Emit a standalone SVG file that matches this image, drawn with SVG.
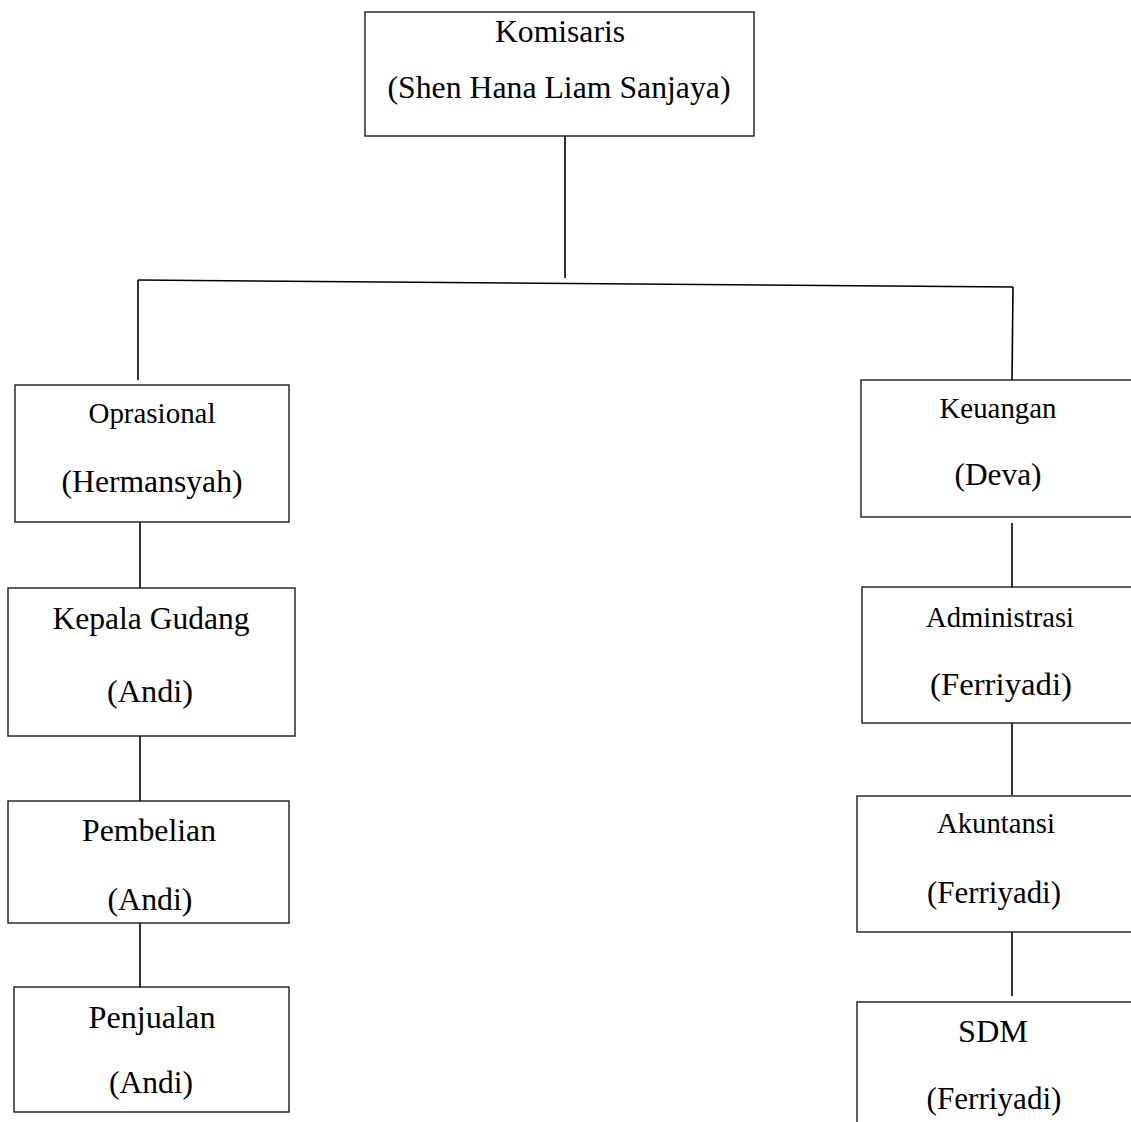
<svg xmlns="http://www.w3.org/2000/svg" width="1131" height="1122" viewBox="0 0 1131 1122">
<style>
.box{fill:#fff;stroke:#1a1a1a;stroke-width:1.4}
.t{font-family:"Liberation Serif","Times New Roman",serif;font-size:31px;fill:#000;text-anchor:middle}
.s{font-size:28.5px}
.c{stroke:#000;stroke-width:1.6;fill:none}
</style>
<rect width="1131" height="1122" fill="#fff"/>
<g id="connectors">
<line class="c" x1="565" y1="136" x2="565" y2="278"/>
<line class="c" x1="138" y1="280" x2="1013" y2="287" stroke-width="2"/>
<line class="c" x1="138" y1="280" x2="138" y2="380"/>
<line class="c" x1="1013" y1="287" x2="1012" y2="380"/>
<line class="c" x1="140" y1="522" x2="140" y2="588"/>
<line class="c" x1="140" y1="736" x2="140" y2="801"/>
<line class="c" x1="140" y1="923" x2="140" y2="987"/>
<line class="c" x1="1012" y1="523" x2="1012" y2="587"/>
<line class="c" x1="1012" y1="723" x2="1012" y2="795"/>
<line class="c" x1="1012" y1="932" x2="1012" y2="996"/>
</g>
<g id="komisaris">
<rect class="box" x="365" y="12" width="389" height="124"/>
<text class="t" x="560" y="42" textLength="130" lengthAdjust="spacingAndGlyphs">Komisaris</text>
<text class="t" x="559" y="98" textLength="343" lengthAdjust="spacingAndGlyphs">(Shen Hana Liam Sanjaya)</text>
</g>
<g id="oprasional">
<rect class="box" x="15" y="385" width="274" height="137"/>
<text class="t s" x="152" y="423" textLength="127" lengthAdjust="spacingAndGlyphs">Oprasional</text>
<text class="t" x="152" y="492" textLength="181" lengthAdjust="spacingAndGlyphs">(Hermansyah)</text>
</g>
<g id="kepala-gudang">
<rect class="box" x="8" y="588" width="287" height="148"/>
<text class="t" x="151" y="629" textLength="197" lengthAdjust="spacingAndGlyphs">Kepala Gudang</text>
<text class="t" x="150" y="702" textLength="86" lengthAdjust="spacingAndGlyphs">(Andi)</text>
</g>
<g id="pembelian">
<rect class="box" x="8" y="801" width="281" height="122"/>
<text class="t" x="149" y="841" textLength="134" lengthAdjust="spacingAndGlyphs">Pembelian</text>
<text class="t" x="150" y="910" textLength="85" lengthAdjust="spacingAndGlyphs">(Andi)</text>
</g>
<g id="penjualan">
<rect class="box" x="14" y="987" width="275" height="125"/>
<text class="t" x="152" y="1028" textLength="127" lengthAdjust="spacingAndGlyphs">Penjualan</text>
<text class="t" x="151" y="1093" textLength="84" lengthAdjust="spacingAndGlyphs">(Andi)</text>
</g>
<g id="keuangan">
<rect class="box" x="861" y="380" width="280" height="137"/>
<text class="t s" x="998" y="418" textLength="117" lengthAdjust="spacingAndGlyphs">Keuangan</text>
<text class="t" x="998" y="485" textLength="87" lengthAdjust="spacingAndGlyphs">(Deva)</text>
</g>
<g id="administrasi">
<rect class="box" x="862" y="587" width="280" height="136"/>
<text class="t s" x="1000" y="627" textLength="148" lengthAdjust="spacingAndGlyphs">Administrasi</text>
<text class="t" x="1001" y="695" textLength="142" lengthAdjust="spacingAndGlyphs">(Ferriyadi)</text>
</g>
<g id="akuntansi">
<rect class="box" x="857" y="796" width="285" height="136"/>
<text class="t s" x="996" y="833" textLength="118" lengthAdjust="spacingAndGlyphs">Akuntansi</text>
<text class="t" x="994" y="903" textLength="134" lengthAdjust="spacingAndGlyphs">(Ferriyadi)</text>
</g>
<g id="sdm">
<rect class="box" x="857" y="1002" width="285" height="140"/>
<text class="t" x="993" y="1042" textLength="70" lengthAdjust="spacingAndGlyphs">SDM</text>
<text class="t" x="994" y="1109" textLength="135" lengthAdjust="spacingAndGlyphs">(Ferriyadi)</text>
</g>
</svg>
